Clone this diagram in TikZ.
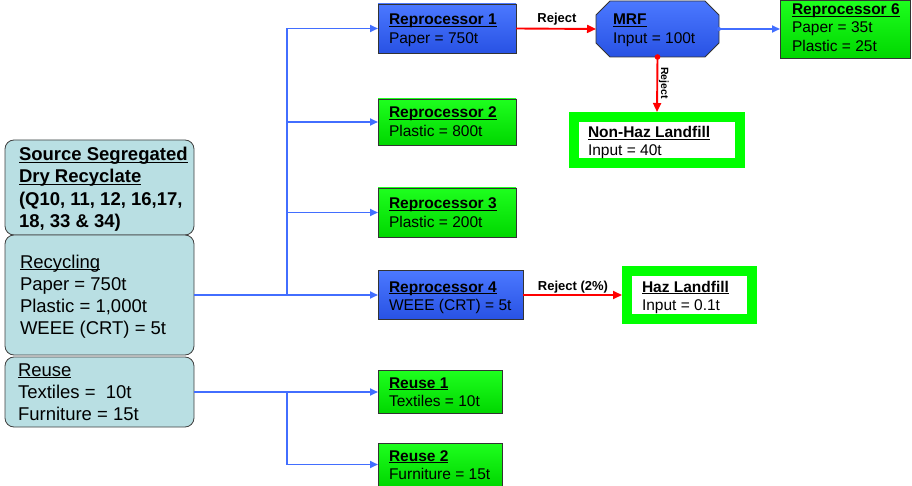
\documentclass[tikz,border=0pt]{standalone}
\usepackage{fontspec}
\setmainfont{Liberation Sans}
\usetikzlibrary{arrows.meta,calc}
\definecolor{srcfill}{RGB}{185,223,227}
\definecolor{lblue}{RGB}{66,110,255}
\definecolor{btop}{RGB}{75,120,255}
\definecolor{bbot}{RGB}{40,82,228}
\definecolor{gtop}{RGB}{30,255,30}
\definecolor{gbot}{RGB}{0,215,0}
\definecolor{lgreen}{RGB}{0,255,0}
\newcommand{\myul}[1]{\setbox0\hbox{#1}\rlap{\rule[-2.2pt]{\wd0}{1.3pt}}\box0}
\tikzset{
  box/.style={draw=black!80, line width=0.8pt, inner sep=0, outer sep=0},
  bluebox/.style={box, top color=btop, bottom color=bbot},
  greenbox/.style={box, top color=gtop, bottom color=gbot},
  srcbox/.style={draw=black!75, fill=srcfill, rounded corners=9pt, line width=0.8pt, inner sep=0, outer sep=0},
  landfill/.style={draw=lgreen, fill=white, line width=10pt, inner sep=0},
  tx/.style={anchor=base west, inner sep=0, outer sep=0, font=\fontsize{15.5}{18}\selectfont},
  tb/.style={tx, font=\fontsize{15.5}{18}\selectfont\bfseries},
  lx/.style={anchor=base west, inner sep=0, outer sep=0, font=\fontsize{18.5}{22}\selectfont},
  lb/.style={lx, font=\fontsize{18.5}{22}\selectfont\bfseries},
  lab/.style={anchor=base, inner sep=0, outer sep=0, font=\fontsize{13}{15}\selectfont\bfseries},
  bline/.style={draw=lblue, line width=1.9pt},
  barr/.style={bline, -{Triangle[length=8pt,width=7pt]}},
  rarr/.style={draw=red, line width=1.9pt, -{Triangle[length=9pt,width=8pt]}},
}
\begin{document}
\begin{tikzpicture}[x=1pt,y=-1pt]
\path[use as bounding box] (0,0) rectangle (912,486);

% left source boxes
\node[srcbox, minimum width=189, minimum height=95] (src) at (99.5,187.5) {};
\node[srcbox, minimum width=189, minimum height=120] (rec) at (99.5,295) {};
\node[srcbox, minimum width=189, minimum height=70] (reu) at (99.5,392) {};

\node[lb] (s1) at (19,161) {\myul{Source Segregated}};
\node[lb] (s2) at (19,183) {\myul{Dry Recyclate}};
\node[lb] (s3) at (19,206) {(Q10, 11, 12, 16,17,};
\node[lb] (s4) at (19,228) {18, 33 \& 34)};

\node[lx] (r1) at (20,268) {\myul{Recycling}};
\node[lx] (r2) at (20,290) {Paper = 750t};
\node[lx] (r3) at (20,312) {Plastic = 1,000t};
\node[lx] (r4) at (20,334) {WEEE (CRT) = 5t};

\node[lx] (u1) at (18,376) {\myul{Reuse}};
\node[lx] (u2) at (18,398) {Textiles = \ 10t};
\node[lx] (u3) at (18,420) {Furniture = 15t};

% reprocessor boxes
\node[bluebox, minimum width=138, minimum height=49] (rep1) at (447,28.5) {};
\node[tb] (rep1a) at (389,25) {\myul{Reprocessor 1}};
\node[tx] (rep1b) at (389,44) {Paper = 750t};

\node[greenbox, minimum width=138, minimum height=46] (rep2) at (447,122) {};
\node[tb] (rep2a) at (389,118) {\myul{Reprocessor 2}};
\node[tx] (rep2b) at (389,137) {Plastic = 800t};

\node[greenbox, minimum width=138, minimum height=49] (rep3) at (447,212.5) {};
\node[tb] (rep3a) at (389,209) {\myul{Reprocessor 3}};
\node[tx] (rep3b) at (389,228) {Plastic = 200t};

\node[bluebox, minimum width=145, minimum height=49] (rep4) at (450.5,295) {};
\node[tb] (rep4a) at (389,292) {\myul{Reprocessor 4}};
\node[tx] (rep4b) at (389,310) {WEEE (CRT) = 5t};

\node[greenbox, minimum width=124, minimum height=43] (ru1) at (440,392) {};
\node[tb] (ru1a) at (389,388) {\myul{Reuse 1}};
\node[tx] (ru1b) at (389,406) {Textiles = 10t};

\node[greenbox, minimum width=124, minimum height=43] (ru2) at (440,464.5) {};
\node[tb] (ru2a) at (389,461) {\myul{Reuse 2}};
\node[tx] (ru2b) at (389,479) {Furniture = 15t};

\node[greenbox, minimum width=130, minimum height=58] (rep6) at (845,29) {};
\node[tb] (rep6a) at (792,15) {\myul{Reprocessor 6}};
\node[tx] (rep6b) at (792,33) {Paper = 35t};
\node[tx] (rep6c) at (792,52) {Plastic = 25t};

% MRF octagon
\node[minimum width=123, minimum height=56, inner sep=0, outer sep=0] (mrf) at (657.5,29) {};
\path[top color=btop, bottom color=bbot, draw=black!80, line width=0.8pt]
  (610,1) -- (705,1) -- (719,15) -- (719,43) -- (705,57) -- (610,57) -- (596,43) -- (596,15) -- cycle;
\node[tb] (mrfa) at (613,25) {\myul{MRF}};
\node[tx] (mrfb) at (613,44) {Input = 100t};

% landfills
\node[landfill, minimum width=166, minimum height=46] (nonhaz) at (657,140) {};
\node[tb] (nha) at (588,138) {\myul{Non-Haz Landfill}};
\node[tx] (nhb) at (588,156) {Input = 40t};

\node[landfill, minimum width=125, minimum height=48] (haz) at (689.5,295) {};
\node[tb] (hza) at (642,292) {\myul{Haz Landfill}};
\node[tx] (hzb) at (642,310) {Input = 0.1t};

% blue connectors
\coordinate (j) at (287,295);
\coordinate (k) at (287,392);
\draw[barr] (rec.east) -- (rep4.west);
\draw[barr] (j) |- (rep1.west);
\draw[barr] (j) |- (rep2.west);
\draw[barr] (j) |- (rep3.west);
\draw[barr] (reu.east) -- (ru1.west);
\draw[barr] (k) |- (ru2.west);
\draw[barr] (mrf.east) -- (rep6.west);
\fill[lblue] (mrf.east) circle (2);

% red connectors
\draw[rarr] (rep1.east) -- (mrf.west);
\node[lab] (lr1) at (557,23) {Reject};
\draw[rarr] (mrf.south) -- (nonhaz.north);
\fill[red] (mrf.south) circle (2.8);
\node[lab, rotate=-90, font=\fontsize{10.5}{12}\selectfont\bfseries] (lr2) at (661,83) {Reject};
\draw[rarr] (rep4.east) -- (haz.west);
\node[lab] (lr3) at (573,290) {Reject (2\%)};
\end{tikzpicture}
\end{document}
